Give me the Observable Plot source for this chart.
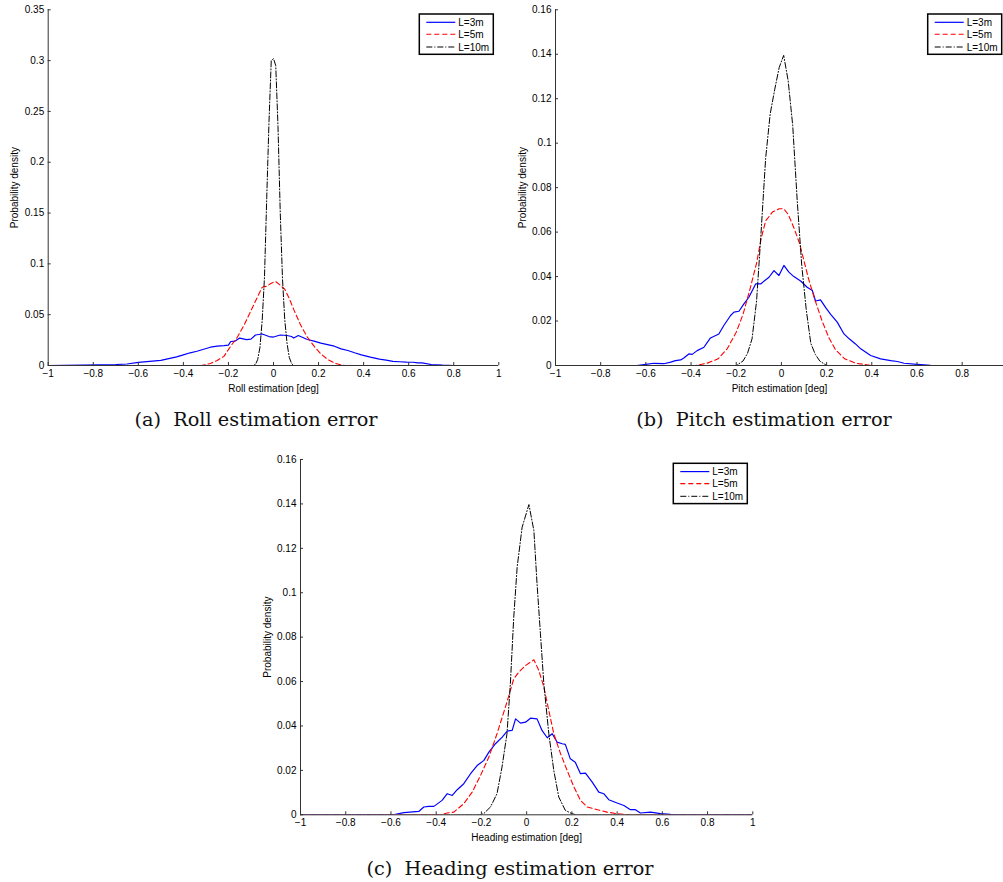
<!DOCTYPE html>
<html><head><meta charset="utf-8">
<script src="https://cdn.jsdelivr.net/npm/d3@7"></script>
<script src="https://cdn.jsdelivr.net/npm/@observablehq/plot@0.6"></script>
<style>
body{margin:0;background:#fff;}
#wrap{position:relative;width:1003px;height:882px;overflow:hidden;background:#fff;}
.panel{position:absolute;}
.cap{position:absolute;font-family:"DejaVu Serif",serif;font-size:19.3px;white-space:pre;transform:translate(-50%,-50%);color:#111;}
#overlay{position:absolute;left:0;top:0;}
</style></head><body><div id="wrap"></div>
<script>
// ---- series labels & captions ----
const seriesNames = ["L=3m", "L=5m", "L=10m"];
const captions = ["(a)  Roll estimation error", "(b)  Pitch estimation error", "(c)  Heading estimation error"];
const xLabels = ["Roll estimation [deg]", "Pitch estimation [deg]", "Heading estimation [deg]"];
const yLabel = "Probability density";

// ---- tick values ----
const rollYTicks = [0, 0.05, 0.1, 0.15, 0.2, 0.25, 0.3, 0.35];
const pitchYTicks = [0, 0.02, 0.04, 0.06, 0.08, 0.1, 0.12, 0.14, 0.16];
const headingYTicks = [0, 0.02, 0.04, 0.06, 0.08, 0.1, 0.12, 0.14, 0.16];
const xTicksFull = [-1, -0.8, -0.6, -0.4, -0.2, 0, 0.2, 0.4, 0.6, 0.8, 1];
const xTicksPitch = [-1, -0.8, -0.6, -0.4, -0.2, 0, 0.2, 0.4, 0.6, 0.8];

// ---- Roll ----
const rollL3x = [-1, -0.7, -0.65, -0.6, -0.55, -0.5, -0.47, -0.43, -0.4, -0.37, -0.34, -0.31, -0.28, -0.25, -0.22, -0.2, -0.19, -0.17, -0.15, -0.12, -0.1, -0.08, -0.05, -0.02, 0, 0.03, 0.06, 0.08, 0.09, 0.11, 0.13, 0.15, 0.18, 0.21, 0.24, 0.27, 0.3, 0.33, 0.36, 0.39, 0.43, 0.47, 0.5, 0.53, 0.56, 0.59, 0.62, 0.64, 0.66, 0.7, 0.75, 0.8, 1];
const rollL3y = [0, 0.001, 0.0015, 0.003, 0.004, 0.005, 0.0065, 0.0085, 0.0105, 0.0125, 0.014, 0.016, 0.018, 0.019, 0.0195, 0.02, 0.0236, 0.024, 0.027, 0.0255, 0.026, 0.03, 0.031, 0.0285, 0.028, 0.030, 0.0295, 0.0285, 0.027, 0.0295, 0.0275, 0.0256, 0.024, 0.022, 0.0205, 0.019, 0.0164, 0.0148, 0.0125, 0.0105, 0.0082, 0.0062, 0.0052, 0.004, 0.0037, 0.0033, 0.0032, 0.0026, 0.0025, 0.001, 0.0003, 0, 0];
const rollL5x = [-1, -0.32, -0.28, -0.25, -0.22, -0.19, -0.16, -0.13, -0.1, -0.07, -0.05, -0.03, -0.01, 0.01, 0.03, 0.05, 0.07, 0.09, 0.12, 0.15, 0.18, 0.21, 0.24, 0.27, 0.3, 0.32, 1];
const rollL5y = [0, 0, 0.002, 0.005, 0.009, 0.019, 0.028, 0.04, 0.054, 0.068, 0.077, 0.078, 0.081, 0.0825, 0.079, 0.075, 0.066, 0.055, 0.04, 0.028, 0.019, 0.0115, 0.006, 0.0025, 0.0005, 0, 0];
const rollL10x = [-1, -0.09, -0.08, -0.07, -0.06, -0.05, -0.04, -0.03, -0.02, -0.01, 0, 0.01, 0.02, 0.03, 0.04, 0.05, 0.06, 0.07, 0.08, 0.09, 1];
const rollL10y = [0, 0, 0.001, 0.006, 0.018, 0.045, 0.087, 0.165, 0.24, 0.30, 0.302, 0.295, 0.235, 0.15, 0.085, 0.045, 0.022, 0.008, 0.002, 0, 0];

// ---- Pitch ----
const pitchL3x = [-1, -0.64, -0.6, -0.565, -0.52, -0.49, -0.469, -0.446, -0.432, -0.41, -0.395, -0.373, -0.343, -0.314, -0.277, -0.255, -0.225, -0.21, -0.188, -0.166, -0.144, -0.114, -0.092, -0.055, -0.033, -0.011, 0.011, 0.033, 0.055, 0.085, 0.114, 0.137, 0.151, 0.173, 0.196, 0.218, 0.247, 0.277, 0.3, 0.328, 0.351, 0.395, 0.439, 0.484, 0.513, 0.543, 0.6, 0.66, 0.7, 1];
const pitchL3y = [0, 0, 0.0005, 0.001, 0.0008, 0.0015, 0.0022, 0.0025, 0.0034, 0.0052, 0.005, 0.0067, 0.0082, 0.0124, 0.0142, 0.018, 0.0225, 0.024, 0.0244, 0.0277, 0.0307, 0.0367, 0.0367, 0.0397, 0.0427, 0.0405, 0.045, 0.042, 0.040, 0.038, 0.0352, 0.0337, 0.029, 0.0295, 0.026, 0.023, 0.0195, 0.0142, 0.012, 0.0097, 0.0075, 0.0045, 0.003, 0.0022, 0.0018, 0.001, 0.0005, 0.0001, 0, 0];
const pitchL5x = [-1, -0.38, -0.33, -0.28, -0.24, -0.2, -0.17, -0.14, -0.11, -0.09, -0.07, -0.04, -0.01, 0.01, 0.03, 0.055, 0.08, 0.1, 0.12, 0.15, 0.18, 0.21, 0.24, 0.28, 0.33, 0.4, 1];
const pitchL5y = [0, 0, 0.001, 0.003, 0.0075, 0.015, 0.023, 0.034, 0.046, 0.057, 0.065, 0.069, 0.0705, 0.0705, 0.068, 0.062, 0.055, 0.047, 0.039, 0.029, 0.020, 0.0125, 0.007, 0.003, 0.001, 0, 0];
const pitchL10x = [-1, -0.2, -0.17, -0.15, -0.13, -0.11, -0.09, -0.07, -0.05, -0.03, -0.01, 0.01, 0.03, 0.05, 0.07, 0.09, 0.11, 0.13, 0.15, 0.17, 0.2, 1];
const pitchL10y = [0, 0, 0.002, 0.0055, 0.012, 0.029, 0.06, 0.093, 0.113, 0.124, 0.134, 0.1395, 0.128, 0.108, 0.074, 0.045, 0.025, 0.01, 0.005, 0.002, 0, 0];

// ---- Heading ----
const headL3x = [-1, -0.59, -0.543, -0.477, -0.455, -0.433, -0.41, -0.374, -0.351, -0.329, -0.307, -0.278, -0.248, -0.219, -0.189, -0.167, -0.138, -0.108, -0.086, -0.064, -0.049, -0.027, -0.005, 0.017, 0.046, 0.068, 0.091, 0.113, 0.135, 0.157, 0.171, 0.193, 0.215, 0.238, 0.26, 0.29, 0.319, 0.341, 0.363, 0.4, 0.43, 0.459, 0.481, 0.503, 0.548, 0.592, 0.636, 0.68, 1];
const headL3y = [0, 0, 0.001, 0.0015, 0.0035, 0.0038, 0.0038, 0.0065, 0.0095, 0.0087, 0.0113, 0.014, 0.0185, 0.0222, 0.0245, 0.0282, 0.032, 0.035, 0.0377, 0.038, 0.0432, 0.0413, 0.0417, 0.0435, 0.0432, 0.038, 0.0347, 0.0365, 0.0327, 0.032, 0.0317, 0.0252, 0.0237, 0.0185, 0.0188, 0.0147, 0.0102, 0.0095, 0.0068, 0.0053, 0.0042, 0.0023, 0.0023, 0.0008, 0.0012, 0.0005, 0.0002, 0, 0];
const headL5x = [-1, -0.38, -0.351, -0.322, -0.278, -0.241, -0.204, -0.167, -0.131, -0.094, -0.072, -0.057, -0.035, -0.005, 0.032, 0.054, 0.076, 0.098, 0.12, 0.15, 0.179, 0.209, 0.238, 0.268, 0.312, 0.356, 0.4, 0.45, 1];
const headL5y = [0, 0, 0.0008, 0.0012, 0.005, 0.0102, 0.0177, 0.026, 0.0365, 0.0485, 0.056, 0.0612, 0.0642, 0.0672, 0.0698, 0.065, 0.0575, 0.047, 0.0365, 0.0275, 0.020, 0.0125, 0.0065, 0.0035, 0.0023, 0.0012, 0.0005, 0, 0];
const headL10x = [-1, -0.21, -0.19, -0.16, -0.131, -0.109, -0.087, -0.072, -0.057, -0.042, -0.02, 0.01, 0.032, 0.046, 0.061, 0.076, 0.098, 0.12, 0.142, 0.171, 0.2, 0.22, 1];
const headL10y = [0, 0, 0.0005, 0.0035, 0.0095, 0.0215, 0.0365, 0.059, 0.089, 0.1115, 0.1295, 0.1397, 0.128, 0.104, 0.0815, 0.059, 0.0365, 0.020, 0.008, 0.002, 0.0005, 0, 0];

// ---- styles ----
const lineStyles = [
  {stroke: "#0000ff", strokeWidth: 1.2, dash: null},
  {stroke: "#ff0000", strokeWidth: 1.1, dash: "5,3"},
  {stroke: "#000000", strokeWidth: 1.0, dash: "6,2,1,2"}
];
const fmt = d3.format("~g");
const FONT = "'Liberation Sans', Arial, Helvetica, sans-serif";
const toPts = (xs, ys) => xs.map((x, i) => ({x, y: ys[i]}));

const panels = [
  {left: 0, top: 0, width: 505, ml: 47.7, mr: 6.7, mt: 9.3, mb: 35, xDomain: [-1, 1], yDomain: [0, 0.35],
   xTicks: xTicksFull, yTicks: rollYTicks, xLabel: xLabels[0], caption: captions[0], capX: 256, capY: 419,
   legend: [419.3, 14], series: [[rollL3x, rollL3y], [rollL5x, rollL5y], [rollL10x, rollL10y]]},
  {left: 500, top: 0, width: 503, ml: 55, mr: 0, mt: 9.3, mb: 35, xDomain: [-1, 0.983], yDomain: [0, 0.16],
   xTicks: xTicksPitch, yTicks: pitchYTicks, xLabel: xLabels[1], caption: captions[1], capX: 764, capY: 419,
   legend: [927.7, 14], series: [[pitchL3x, pitchL3y], [pitchL5x, pitchL5y], [pitchL10x, pitchL10y]]},
  {left: 250, top: 450, width: 510, ml: 50, mr: 7.7, mt: 9, mb: 35.7, xDomain: [-1, 1], yDomain: [0, 0.16],
   xTicks: xTicksFull, yTicks: headingYTicks, xLabel: xLabels[2], caption: captions[2], capX: 510, capY: 868,
   legend: [673.3, 463.3], series: [[headL3x, headL3y], [headL5x, headL5y], [headL10x, headL10y]]}
];

const wrap = document.getElementById("wrap");

for (const p of panels) {
  const lines = p.series.map(([xs, ys], i) => Plot.line(toPts(xs, ys), {
    x: "x", y: "y", stroke: lineStyles[i].stroke, strokeWidth: lineStyles[i].strokeWidth,
    strokeDasharray: lineStyles[i].dash, clip: true
  }));
  const chart = Plot.plot({
    width: p.width, height: 400,
    marginLeft: p.ml, marginRight: p.mr, marginTop: p.mt, marginBottom: p.mb,
    x: {domain: p.xDomain},
    y: {domain: p.yDomain},
    style: {background: "transparent", overflow: "visible", fontFamily: FONT, fontSize: "10px", color: "#000"},
    marks: [
      Plot.ruleY([0], {stroke: "#333", strokeWidth: 1}),
      Plot.ruleX([p.xDomain[0]], {stroke: "#333", strokeWidth: 1}),
      ...lines,
      Plot.axisX(p.xTicks, {tickSize: -3, tickPadding: 7, tickFormat: fmt, stroke: "#333",
        label: p.xLabel, labelAnchor: "center", labelOffset: 26, labelArrow: "none"}),
      Plot.axisY(p.yTicks, {tickSize: -3, tickPadding: 7, tickFormat: fmt, stroke: "#333",
        label: yLabel, labelAnchor: "center", labelOffset: 37, labelArrow: "none"})
    ]
  });
  chart.classList.add("panel");
  chart.style.left = p.left + "px";
  chart.style.top = p.top + "px";
  wrap.appendChild(chart);

  const cap = document.createElement("div");
  cap.className = "cap";
  cap.textContent = p.caption;
  cap.style.left = p.capX + "px";
  cap.style.top = p.capY + "px";
  wrap.appendChild(cap);
}

// ---- legends ----
const svg = d3.select(wrap).append("svg").attr("id", "overlay").attr("width", 1003).attr("height", 882);
for (const p of panels) {
  const [lx, ly] = p.legend;
  const g = svg.append("g").attr("transform", `translate(${lx},${ly})`);
  g.append("rect").attr("x", 0).attr("y", 0).attr("width", 74).attr("height", 40.3)
    .attr("fill", "#fff").attr("stroke", "#000").attr("stroke-width", 1.5);
  const rows = [8.3, 20.3, 33];
  seriesNames.forEach((name, i) => {
    const s = lineStyles[i];
    g.append("line").attr("x1", 7).attr("x2", 36).attr("y1", rows[i]).attr("y2", rows[i])
      .attr("stroke", s.stroke).attr("stroke-width", s.strokeWidth)
      .attr("stroke-dasharray", s.dash);
    g.append("text").attr("x", 39).attr("y", rows[i]).attr("dy", "0.35em")
      .attr("font-family", FONT).attr("font-size", 10).text(name);
  });
}
</script>
</body></html>
